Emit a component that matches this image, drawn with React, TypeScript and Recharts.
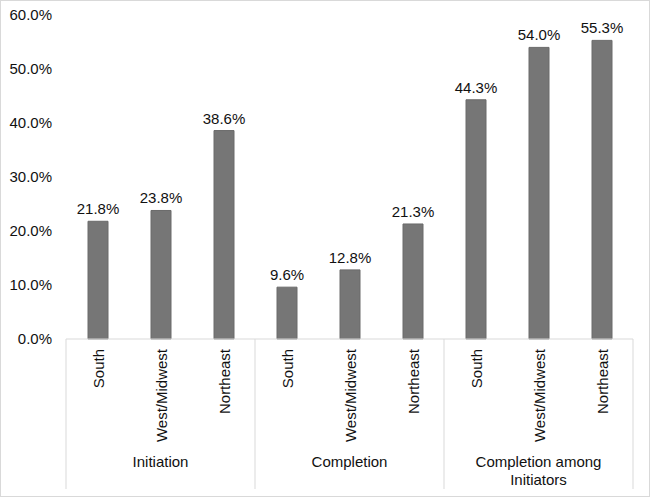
import { BarChart, Bar, XAxis, YAxis, LabelList } from 'recharts';

// Values (percent)
const GROUPS = ['Initiation', 'Completion', 'Completion among Initiators'];
const REGIONS = ['South', 'West/Midwest', 'Northeast'];
const INITIATION = [21.8, 23.8, 38.6];
const COMPLETION = [9.6, 12.8, 21.3];
const COMPLETION_AMONG = [44.3, 54.0, 55.3];
const Y_TICKS = [0, 10, 20, 30, 40, 50, 60];

const SERIES = [INITIATION, COMPLETION, COMPLETION_AMONG];
const DATA = GROUPS.flatMap((g, gi) =>
  REGIONS.map((r, ri) => ({ key: `${gi}-${ri}`, group: g, region: r, value: SERIES[gi][ri] }))
);

const W = 650;
const H = 497;
const LEFT = 66;
const RIGHT = 17;
const TOP = 15;
const X_AXIS_H = 158;
const AXIS_Y = H - X_AXIS_H;
const BAND = (W - LEFT - RIGHT) / DATA.length;
const FONT = '"Liberation Sans", Arial, sans-serif';
const GRID = '#d9d9d9';
const TEXT = '#111';

const GROUP_LINES: Record<string, string[]> = {
  'Completion among Initiators': ['Completion among', 'Initiators'],
};

const CategoryTick = (props: { x?: number; index?: number; payload?: { value: string } }) => {
  const x = props.x ?? 0;
  const i = props.index ?? 0;
  const row = DATA[i];
  if (!row) return null;
  const pos = i % 3;
  const lines = GROUP_LINES[row.group] ?? [row.group];
  return (
    <g>
      <text
        transform={`translate(${x}, ${AXIS_Y + 10}) rotate(-90)`}
        textAnchor="end"
        dy="0.43em"
        fontSize={15}
        fontFamily={FONT}
        fill={TEXT}
      >
        {row.region}
      </text>
      {pos === 0 && (
        <line x1={x - BAND / 2} x2={x - BAND / 2} y1={AXIS_Y} y2={AXIS_Y + 150} stroke={GRID} strokeWidth={1} />
      )}
      {i === DATA.length - 1 && (
        <line x1={x + BAND / 2} x2={x + BAND / 2} y1={AXIS_Y} y2={AXIS_Y + 150} stroke={GRID} strokeWidth={1} />
      )}
      {pos === 1 &&
        lines.map((ln, li) => (
          <text
            key={li}
            x={x}
            y={AXIS_Y + 123 + li * 18}
            textAnchor="middle"
            dy="0.35em"
            fontSize={15}
            fontFamily={FONT}
            fill={TEXT}
          >
            {ln}
          </text>
        ))}
    </g>
  );
};

export default function App() {
  return (
    <div style={{ position: 'absolute', left: 0, top: 0, width: W, height: H, background: '#fff' }}>
      <BarChart
        width={W}
        height={H}
        data={DATA}
        margin={{ top: TOP, right: RIGHT, left: 0, bottom: 0 }}
      >
        <XAxis
          dataKey="key"
          height={X_AXIS_H}
          axisLine={{ stroke: GRID }}
          tickLine={false}
          interval={0}
          tick={<CategoryTick />}
        />
        <YAxis
          width={LEFT}
          domain={[0, 60]}
          ticks={Y_TICKS}
          axisLine={false}
          tickLine={false}
          tickMargin={8}
          tick={{ fill: TEXT, fontSize: 15, fontFamily: FONT }}
          tickFormatter={(v: number) => `${v.toFixed(1)}%`}
        />
        <Bar dataKey="value" barSize={20} fill="#767676" stroke="#6a6a6a" strokeWidth={1} isAnimationActive={false}>
          <LabelList
            dataKey="value"
            position="top"
            offset={7}
            fill={TEXT}
            fontSize={15}
            fontFamily={FONT}
            formatter={(v: number) => `${Number(v).toFixed(1)}%`}
          />
        </Bar>
      </BarChart>
      <div
        style={{
          position: 'absolute',
          inset: 0,
          border: `1px solid ${GRID}`,
          pointerEvents: 'none',
        }}
      />
    </div>
  );
}
